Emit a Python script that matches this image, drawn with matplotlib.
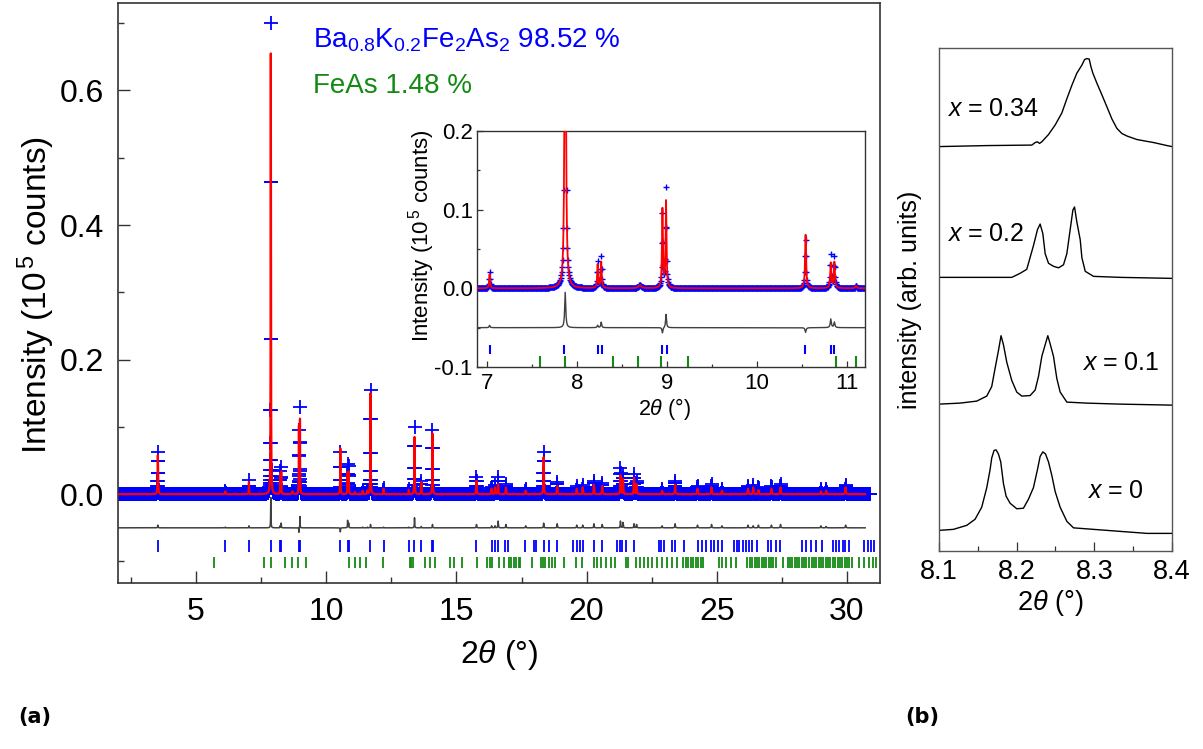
import numpy as np
import matplotlib
matplotlib.use('Agg')
import matplotlib.pyplot as plt
from matplotlib.ticker import MultipleLocator

plt.rcParams['font.family'] = ['Liberation Sans', 'DejaVu Sans']
plt.rcParams['mathtext.fontset'] = 'custom'
plt.rcParams['mathtext.rm'] = 'Liberation Sans'
plt.rcParams['mathtext.it'] = 'Liberation Sans:italic'
plt.rcParams['mathtext.bf'] = 'Liberation Sans:bold'
plt.rcParams['axes.unicode_minus'] = False

# ---- panel (a): reflections (2theta in deg, heights in 1e5 counts)
peak_pos = [3.53, 6.12, 7.03, 7.87, 8.23, 8.27, 8.70, 8.95, 8.99, 10.54,
            10.82, 10.86, 11.10, 11.40, 11.58, 11.70, 12.20, 13.17, 13.39, 13.65,
            14.08, 15.77, 16.35, 16.48, 16.60, 16.90, 17.66, 18.35, 18.87, 19.62,
            19.85, 20.28, 20.60, 21.30, 21.40, 21.82, 21.92, 22.90, 23.40, 24.26,
            24.80, 25.20, 26.20, 26.40, 26.60, 27.10, 27.45, 29.00, 29.20, 29.95]
peak_calc = [0.058, 0.004, 0.018, 0.655, 0.030, 0.033, 0.004, 0.100, 0.110, 0.068,
             0.032, 0.033, 0.003, 0.005, 0.005, 0.150, 0.008, 0.006, 0.085, 0.018,
             0.090, 0.020, 0.008, 0.010, 0.015, 0.010, 0.005, 0.055, 0.012, 0.008,
             0.010, 0.014, 0.012, 0.028, 0.022, 0.024, 0.015, 0.005, 0.014, 0.008,
             0.010, 0.005, 0.008, 0.010, 0.006, 0.008, 0.010, 0.004, 0.005, 0.010]
peak_obs = [0.062, 0.005, 0.021, 0.700, 0.033, 0.040, 0.004, 0.093, 0.127, 0.062,
            0.043, 0.040, 0.003, 0.006, 0.006, 0.155, 0.009, 0.007, 0.100, 0.020,
            0.095, 0.025, 0.011, 0.013, 0.025, 0.015, 0.008, 0.062, 0.018, 0.012,
            0.014, 0.020, 0.017, 0.038, 0.030, 0.030, 0.020, 0.008, 0.020, 0.012,
            0.015, 0.008, 0.012, 0.013, 0.010, 0.012, 0.015, 0.007, 0.007, 0.014]
peak_hw = [0.010, 0.008, 0.006, 0.007, 0.006, 0.006, 0.020, 0.006, 0.006, 0.007,
           0.007, 0.007, 0.010, 0.008, 0.008, 0.008, 0.008, 0.008, 0.008, 0.008,
           0.008, 0.010, 0.010, 0.010, 0.010, 0.010, 0.010, 0.010, 0.010, 0.010,
           0.010, 0.010, 0.010, 0.010, 0.010, 0.010, 0.010, 0.012, 0.012, 0.012,
           0.012, 0.012, 0.012, 0.012, 0.012, 0.012, 0.012, 0.012, 0.012, 0.012]

# Bragg positions, Ba0.8K0.2Fe2As2 (blue) and FeAs (green)
bragg_122 = [3.53, 6.12, 7.03, 7.86, 8.23, 8.28, 8.95, 9.00, 10.53, 10.82, 10.86,
             11.69, 12.20, 13.17, 13.38, 13.65, 14.05, 14.10, 15.77, 16.35, 16.48,
             16.60, 16.87, 16.97, 17.65, 17.97, 18.04, 18.36, 18.55, 18.87, 19.49,
             19.62, 19.74, 19.87, 20.28, 20.60, 21.18, 21.28, 21.37, 21.50, 21.82,
             22.78, 22.87, 22.97, 23.29, 23.38, 23.74, 24.26, 24.45, 24.58, 24.77,
             24.90, 25.03, 25.22, 25.67, 25.77, 25.86, 25.99, 26.12, 26.24, 26.37,
             26.54, 26.95, 27.10, 27.27, 27.44, 28.29, 28.42, 28.62, 28.81, 29.06,
             29.45, 29.58, 29.71, 29.83, 29.92, 30.09, 30.67, 30.80, 30.92, 31.05]
bragg_feas = [5.67, 7.59, 7.87, 8.40, 8.68, 8.93, 9.23, 10.88, 11.10, 11.31,
              11.54, 12.18, 13.21, 13.26, 13.33, 13.81, 14.00, 14.19, 14.77, 14.90,
              15.22, 15.79, 16.18, 16.28, 16.37, 16.63, 16.82, 17.01, 17.20, 17.40,
              17.08, 17.27, 17.46, 17.91, 18.23, 18.33, 18.42, 18.55, 18.68, 18.78,
              19.13, 19.58, 19.83, 20.28, 20.41, 20.54, 20.73, 20.92, 21.11, 21.50,
              21.59, 21.88, 22.05, 22.21, 22.37, 22.53, 22.72, 22.91, 23.10, 23.29,
              23.49, 23.72, 23.81, 23.90, 24.00, 24.10, 24.19, 24.28, 24.38, 24.49,
              25.09, 25.22, 25.35, 25.54, 25.73, 26.18, 26.27, 26.36, 26.45, 26.54,
              26.63, 26.72, 26.81, 26.90, 26.99, 27.08, 27.17, 27.26, 27.53, 27.72,
              27.81, 27.90, 27.99, 28.08, 28.17, 28.26, 28.35, 28.44, 28.55, 28.64,
              28.73, 28.82, 28.91, 29.00, 29.09, 29.18, 29.27, 29.36, 29.45, 29.54,
              29.64, 29.73, 29.82, 29.91, 30.00, 30.09, 30.18, 30.47, 30.67, 30.86,
              30.99, 31.12]

obs_range = (2.0, 30.88)
calc_end = 30.70
step = 0.005
diff_offset = -0.05

# ---- panel (b): 2theta region of the doublet for several x
comp_labels = ['$x$ = 0', '$x$ = 0.1', '$x$ = 0.2', '$x$ = 0.34']
b_tth = [
    [8.100, 8.1185, 8.1357, 8.1464, 8.1550, 8.1615, 8.1658, 8.1679, 8.1709, 8.1735,
     8.1765, 8.1795, 8.1830, 8.1864, 8.1915, 8.2001, 8.2087, 8.2152, 8.2216, 8.2268,
     8.2302, 8.2337, 8.2371, 8.2410, 8.2453, 8.2496, 8.2560, 8.2646, 8.2732, 8.2990,
     8.3334, 8.3678, 8.4000],
    [8.100, 8.1271, 8.1486, 8.1615, 8.1679, 8.1722, 8.1765, 8.1799, 8.1830, 8.1873,
     8.1937, 8.2001, 8.2066, 8.2173, 8.2238, 8.2281, 8.2324, 8.2367, 8.2401, 8.2431,
     8.2474, 8.2517, 8.2560, 8.2646, 8.2904, 8.3334, 8.4000],
    [8.100, 8.1937, 8.2044, 8.2130, 8.2216, 8.2268, 8.2302, 8.2337, 8.2367, 8.2410,
     8.2474, 8.2539, 8.2603, 8.2646, 8.2689, 8.2724, 8.2745, 8.2775, 8.2818, 8.2840,
     8.2883, 8.2990, 8.3334, 8.4000],
    [8.100, 8.1615, 8.2195, 8.2238, 8.2268, 8.2294, 8.2324, 8.2410, 8.2496, 8.2582,
     8.2646, 8.2711, 8.2775, 8.2840, 8.2874, 8.2904, 8.2934, 8.2956, 8.2981, 8.3033,
     8.3097, 8.3162, 8.3226, 8.3291, 8.3355, 8.3420, 8.3549, 8.3764, 8.3936, 8.4000],
]
b_int = [
    [0, 0.02, 0.10, 0.22, 0.46, 0.85, 1.21, 1.44, 1.59, 1.60,
     1.52, 1.36, 0.93, 0.68, 0.54, 0.43, 0.44, 0.62, 0.85, 1.21,
     1.47, 1.56, 1.52, 1.36, 1.09, 0.77, 0.46, 0.18, 0.05, 0.02,
     -0.02, -0.06, -0.06],
    [0, 0.02, 0.06, 0.16, 0.35, 0.71, 1.06, 1.36, 1.18, 0.83,
     0.47, 0.24, 0.16, 0.17, 0.28, 0.55, 0.95, 1.18, 1.36, 1.20,
     0.95, 0.51, 0.24, 0.04, 0.02, 0.0, -0.02],
    [0, 0, 0.08, 0.16, 0.63, 0.95, 1.06, 0.87, 0.47, 0.28,
     0.22, 0.19, 0.25, 0.47, 0.95, 1.34, 1.40, 1.10, 0.75, 0.39,
     0.12, 0.02, 0.0, -0.02],
    [0, 0.02, 0.03, 0.08, 0.095, 0.063, 0.095, 0.24, 0.43, 0.67,
     0.95, 1.22, 1.46, 1.62, 1.73, 1.75, 1.74, 1.59, 1.46, 1.26,
     1.03, 0.79, 0.55, 0.36, 0.26, 0.21, 0.14, 0.08, 0.02, 0.0],
]
b_offset = [0.41, 2.92, 5.44, 8.04]


def profile(x, heights):
    y = np.zeros_like(x)
    for p, h, w in zip(peak_pos, heights, peak_hw):
        y += h * w ** 2 / ((x - p) ** 2 + w ** 2)
    return y


tth = np.arange(obs_range[0], obs_range[1], step)
obs = profile(tth, peak_obs)
tth_c = tth[tth <= calc_end]
calc = profile(tth_c, peak_calc)
diff = profile(tth_c, peak_obs) - calc + diff_offset

W, H = 1203, 749
fig = plt.figure(figsize=(W / 100, H / 100), dpi=100)


def fx(px):
    return px / W


def fy(py):
    return 1 - py / H


spine_col = '#333333'

# main panel
ax = fig.add_axes([fx(118), fy(583), fx(880) - fx(118), fy(3) - fy(583)])
ax.plot(tth, obs, '+', color='#0000ff', ms=10, mew=1.3, zorder=2)
ax.plot(tth_c, calc, color='#ff0000', lw=1.6, zorder=3)
ax.plot(tth_c, diff, color='#404040', lw=1.1, zorder=3)
ax.vlines(bragg_122, -0.086, -0.068, color='#0000ff', lw=1.3)
ax.vlines(bragg_feas, -0.110, -0.094, color='#138a13', lw=1.3)
ax.set_xlim(2.0, 31.27)
ax.set_ylim(-0.132, 0.73)
ax.xaxis.set_major_locator(MultipleLocator(5))
ax.xaxis.set_minor_locator(MultipleLocator(2.5))
ax.yaxis.set_major_locator(MultipleLocator(0.2))
ax.yaxis.set_minor_locator(MultipleLocator(0.1))
ax.tick_params(which='both', direction='in', top=False, right=False, color=spine_col)
ax.tick_params(which='major', length=8.5, width=1.0, labelsize=23, pad=10)
ax.tick_params(which='minor', length=4.5, width=1.0)
for s in ax.spines.values():
    s.set_linewidth(1.2)
    s.set_color(spine_col)

fig.text(fx(36), fy(295), 'Intensity (10$^{\\,5}$ counts)', rotation=90,
         ha='center', va='center', fontsize=24)
fig.text(fx(499), fy(655), '2$\\theta$ (°)', ha='center', va='center', fontsize=23)
fig.text(fx(313), fy(47), 'Ba$_{0.8}$K$_{0.2}$Fe$_2$As$_2$ 98.52 %', color='#0000ff',
         fontsize=20, ha='left', va='baseline')
fig.text(fx(313), fy(93), 'FeAs 1.48 %', color='#138a13',
         fontsize=20, ha='left', va='baseline')

# inset
ins = fig.add_axes([fx(477), fy(367), fx(865) - fx(477), fy(131) - fy(367)])
m = (tth > 6.85) & (tth < 11.25)
ins.plot(tth[m], obs[m], '+', color='#0000ff', ms=4.5, mew=1.0, zorder=2)
mc = (tth_c > 6.85) & (tth_c < 11.25)
ins.plot(tth_c[mc], calc[mc], color='#ff0000', lw=1.3, zorder=3)
ins.plot(tth_c[mc], diff[mc], color='#404040', lw=1.0, zorder=3)
ins.vlines(bragg_122, -0.083, -0.072, color='#0000ff', lw=1.5)
ins.vlines(bragg_feas, -0.100, -0.086, color='#138a13', lw=1.5)
ins.set_xlim(6.89, 11.2)
ins.set_ylim(-0.1, 0.2)
ins.xaxis.set_major_locator(MultipleLocator(1))
ins.xaxis.set_minor_locator(MultipleLocator(0.5))
ins.yaxis.set_major_locator(MultipleLocator(0.1))
ins.yaxis.set_minor_locator(MultipleLocator(0.05))
ins.tick_params(which='both', direction='in', top=False, right=False, color=spine_col)
ins.tick_params(which='major', length=4.5, width=0.9, labelsize=16)
ins.tick_params(axis='y', which='major', pad=3)
ins.tick_params(axis='x', which='major', pad=4)
ins.tick_params(which='minor', length=2.5, width=0.9)
for s in ins.spines.values():
    s.set_linewidth(1.0)
    s.set_color(spine_col)
fig.text(fx(422), fy(236), 'Intensity (10$^{\\,5}$ counts)', rotation=90,
         ha='center', va='center', fontsize=16)
fig.text(fx(665), fy(409), '2$\\theta$ (°)', ha='center', va='center', fontsize=15.5)

# panel (b)
axb = fig.add_axes([fx(939), fy(551), fx(1172) - fx(939), fy(48) - fy(551)])
for xs, ys, off in zip(b_tth, b_int, b_offset):
    axb.plot(xs, np.array(ys) + off, color='black', lw=1.0)
axb.set_xlim(8.1, 8.4)
axb.set_ylim(0, 10)
axb.set_xticks([8.1, 8.2, 8.3, 8.4])
axb.xaxis.set_minor_locator(MultipleLocator(0.05))
axb.set_yticks([])
axb.tick_params(which='both', direction='in', top=False, right=False, color=spine_col)
axb.tick_params(which='major', length=6.5, width=0.9, labelsize=19.5, pad=6)
axb.tick_params(which='minor', length=3.5, width=0.9)
for s in axb.spines.values():
    s.set_linewidth(1.0)
    s.set_color('#555555')
fig.text(fx(947), fy(109), comp_labels[3], ha='left', va='center', fontsize=18)
fig.text(fx(947), fy(234), comp_labels[2], ha='left', va='center', fontsize=18)
fig.text(fx(1159), fy(363), comp_labels[1], ha='right', va='center', fontsize=18)
fig.text(fx(1087), fy(491), comp_labels[0], ha='left', va='center', fontsize=18)
fig.text(fx(910), fy(300), 'intensity (arb. units)', rotation=90,
         ha='center', va='center', fontsize=18)
fig.text(fx(1050), fy(603), '2$\\theta$ (°)', ha='center', va='center', fontsize=19.5)

fig.text(fx(18), fy(717), '(a)', ha='left', va='center', fontsize=15,
         fontweight='bold', family='DejaVu Sans')
fig.text(fx(905), fy(717), '(b)', ha='left', va='center', fontsize=15,
         fontweight='bold', family='DejaVu Sans')

fig.savefig('out.png', dpi=100, facecolor='white')
